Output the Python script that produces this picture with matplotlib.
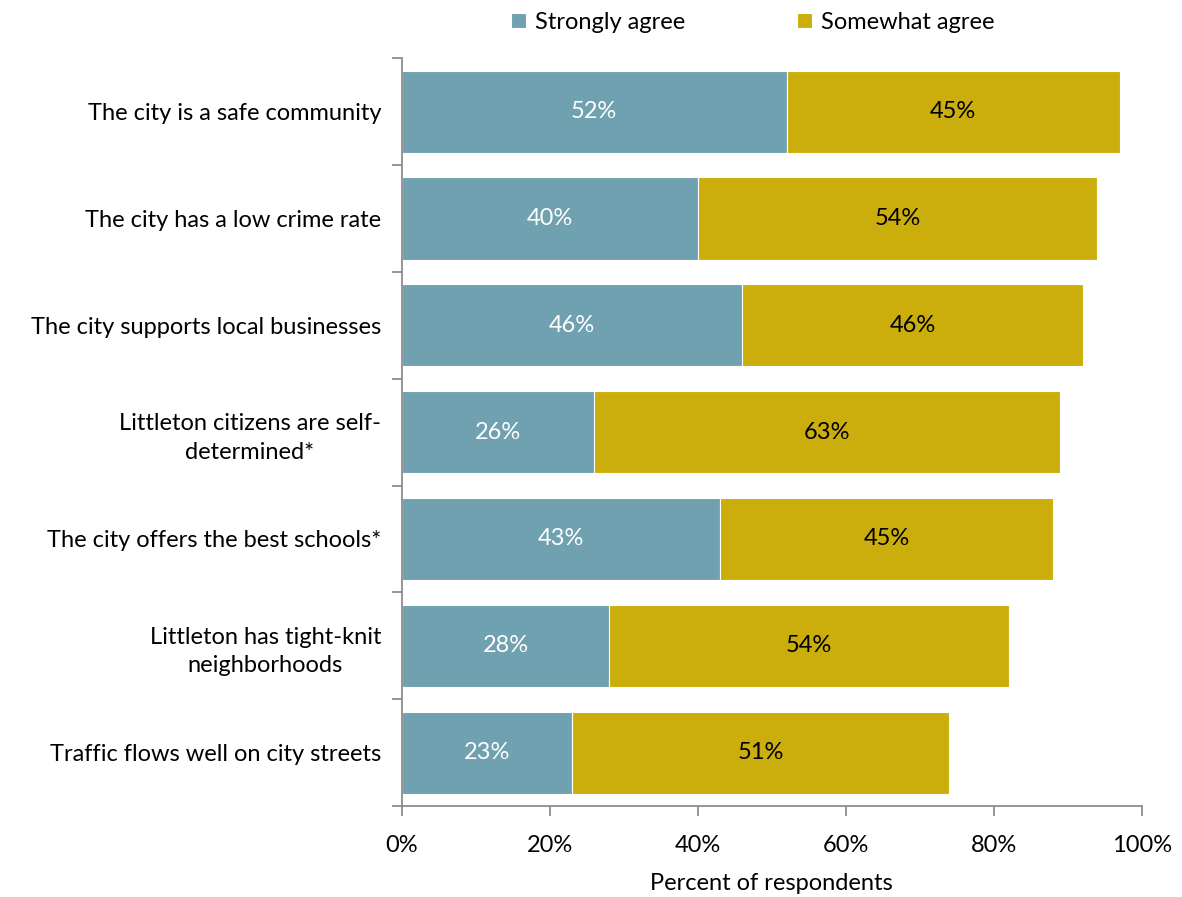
import numpy as np
import matplotlib
matplotlib.use("Agg")
from matplotlib import pyplot as plt

plt.rcParams['font.family'] = ['Lato', 'DejaVu Sans']

statements = [
    "The city is a safe community",
    "The city has a low crime rate",
    "The city supports local businesses",
    "Littleton citizens are self-\ndetermined*",
    "The city offers the best schools*",
    "Littleton has tight-knit\nneighborhoods",
    "Traffic flows well on city streets",
]
strongly = [52, 40, 46, 26, 43, 28, 23]
somewhat = [45, 54, 46, 63, 45, 54, 51]

c_strong = '#6fa1b0'
c_some = '#cbae0c'
spine_col = '#8c8c8c'
fs = 17

fig = plt.figure(figsize=(11.82, 8.97), dpi=100)
ax = fig.add_axes([0.340, 0.1014, 0.626, 0.8336])

y = np.arange(len(statements))
ax.barh(y, strongly, height=0.77, color=c_strong, edgecolor='white', linewidth=0.8, label='Strongly agree')
ax.barh(y, somewhat, left=strongly, height=0.77, color=c_some, edgecolor='white', linewidth=0.8, label='Somewhat agree')

for i in range(len(statements)):
    ax.text(strongly[i] / 2, y[i], f'{strongly[i]}%', ha='center', va='center', color='white', fontsize=fs)
    ax.text(strongly[i] + somewhat[i] / 2, y[i], f'{somewhat[i]}%', ha='center', va='center', color='black', fontsize=fs)

ax.set_ylim(len(statements) - 0.5, -0.5)
ax.set_xlim(0, 100)
ax.set_yticks(y)
ax.set_yticklabels(statements, fontsize=fs, multialignment='center', linespacing=1.45)
ax.set_yticks(np.arange(len(statements) + 1) - 0.5, minor=True)
ax.tick_params(axis='y', which='major', length=0, pad=15)
ax.tick_params(axis='y', which='minor', length=7, color=spine_col, width=1.3, direction='out')

ax.set_xticks(np.arange(0, 101, 20))
ax.set_xticklabels([f'{v}%' for v in range(0, 101, 20)], fontsize=fs)
ax.tick_params(axis='x', length=7, color=spine_col, width=1.3, direction='out', pad=14)
ax.set_xlabel('Percent of respondents', fontsize=fs, labelpad=12)

for side in ['top', 'right']:
    ax.spines[side].set_visible(False)
for side in ['left', 'bottom']:
    ax.spines[side].set_color(spine_col)
    ax.spines[side].set_linewidth(1.3)

fig.legend(loc='upper center', bbox_to_anchor=(0.637, 1.01), ncol=2, frameon=False,
           fontsize=fs, handlelength=0.6, handleheight=0.6, handletextpad=0.4, columnspacing=4.75)

fig.savefig('out.png', dpi=100)
